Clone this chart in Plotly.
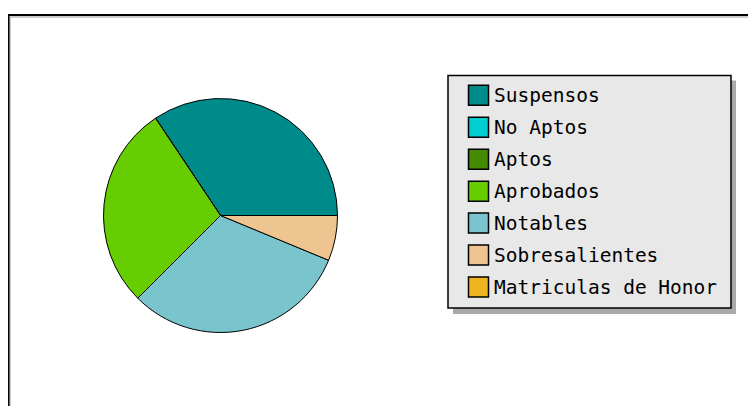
import plotly.graph_objects as go

# Data
categories = ["Suspensos", "No Aptos", "Aptos", "Aprobados", "Notables",
              "Sobresalientes", "Matriculas de Honor"]
counts = [11, 0, 0, 9, 10, 2, 0]
colors = ["#008B8B", "#00CED1", "#458B00", "#66CD00", "#7AC5CD",
          "#EEC591", "#EEB422"]

W, H = 756, 406
OFF = 8  # page body margin


def px(x):
    return (x - OFF) / W


def py(y):
    return 1 - (y - OFF) / H


cx, cy, r = 220.5, 215.5, 117.0

# first slice starts at 3 o'clock and proceeds counterclockwise
first_share = 360.0 * counts[0] / sum(counts)
rotation = 90 - first_share

fig = go.Figure()
fig.add_trace(go.Pie(
    labels=categories,
    values=counts,
    sort=False,
    direction="counterclockwise",
    rotation=rotation,
    marker=dict(colors=colors, line=dict(color="black", width=1)),
    textinfo="none",
    hoverinfo="label+value+percent",
    showlegend=False,
    domain=dict(x=[px(cx - r), px(cx + r)], y=[py(cy + r), py(cy - r)]),
))

shapes = []
# Outer frame
shapes.append(dict(type="rect", xref="paper", yref="paper",
                   x0=px(10), x1=px(900), y0=py(17), y1=py(600),
                   line=dict(color="#999999", width=1), fillcolor="rgba(0,0,0,0)"))
shapes.append(dict(type="rect", xref="paper", yref="paper",
                   x0=px(8.5), x1=px(900), y0=py(15), y1=py(600),
                   line=dict(color="black", width=2), fillcolor="rgba(0,0,0,0)"))
# Legend shadow and box
lx0, lx1, ly0, ly1 = 448, 731, 75.5, 308
shapes.append(dict(type="rect", xref="paper", yref="paper",
                   x0=px(lx0 + 5), x1=px(lx1 + 5), y0=py(ly0 + 5), y1=py(ly1 + 6),
                   line=dict(width=0), fillcolor="#a9a9a9"))
shapes.append(dict(type="rect", xref="paper", yref="paper",
                   x0=px(lx0), x1=px(lx1), y0=py(ly0), y1=py(ly1),
                   line=dict(color="black", width=1.5), fillcolor="#e8e8e8"))

annotations = []
y_first, step = 95.3, 31.95
for i, (name, col) in enumerate(zip(categories, colors)):
    yc = y_first + i * step
    shapes.append(dict(type="rect", xref="paper", yref="paper",
                       x0=px(468.5), x1=px(488.5), y0=py(yc - 10), y1=py(yc + 10),
                       line=dict(color="black", width=1.5), fillcolor=col))
    annotations.append(dict(xref="paper", yref="paper", x=px(491.5), y=py(yc + 0.5),
                            xanchor="left", yanchor="middle", showarrow=False,
                            text=name,
                            font=dict(family="DejaVu Sans Mono", size=19.5, color="black")))

fig.update_layout(
    width=W, height=H,
    margin=dict(l=0, r=0, t=0, b=0),
    paper_bgcolor="white",
    plot_bgcolor="white",
    shapes=shapes,
    annotations=annotations,
    showlegend=False,
)

fig.write_html("out.html")
